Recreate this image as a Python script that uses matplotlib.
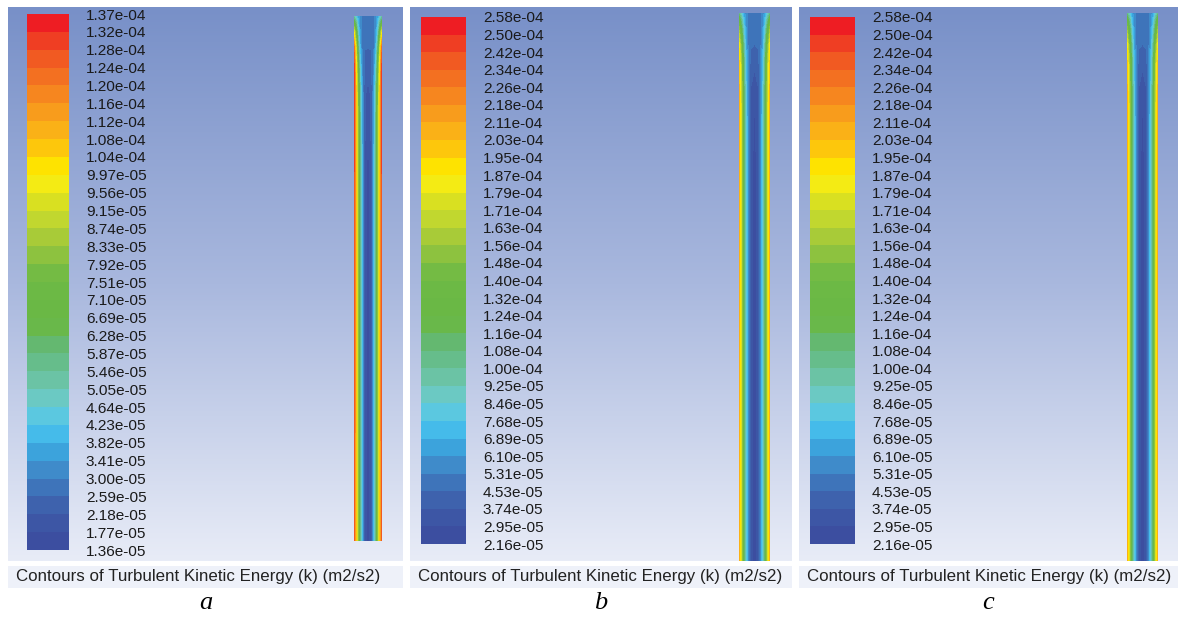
"""Contours of turbulent kinetic energy, three cases (a, b, c)."""

import matplotlib
matplotlib.use("Agg")
import matplotlib.pyplot as plt
import numpy as np
from matplotlib.colors import ListedColormap, BoundaryNorm, LinearSegmentedColormap

# colour-bar labels, top to bottom
labels_a = ["1.37e-04", "1.32e-04", "1.28e-04", "1.24e-04", "1.20e-04", "1.16e-04",
            "1.12e-04", "1.08e-04", "1.04e-04", "9.97e-05", "9.56e-05", "9.15e-05",
            "8.74e-05", "8.33e-05", "7.92e-05", "7.51e-05", "7.10e-05", "6.69e-05",
            "6.28e-05", "5.87e-05", "5.46e-05", "5.05e-05", "4.64e-05", "4.23e-05",
            "3.82e-05", "3.41e-05", "3.00e-05", "2.59e-05", "2.18e-05", "1.77e-05",
            "1.36e-05"]
labels_b = ["2.58e-04", "2.50e-04", "2.42e-04", "2.34e-04", "2.26e-04", "2.18e-04",
            "2.11e-04", "2.03e-04", "1.95e-04", "1.87e-04", "1.79e-04", "1.71e-04",
            "1.63e-04", "1.56e-04", "1.48e-04", "1.40e-04", "1.32e-04", "1.24e-04",
            "1.16e-04", "1.08e-04", "1.00e-04", "9.25e-05", "8.46e-05", "7.68e-05",
            "6.89e-05", "6.10e-05", "5.31e-05", "4.53e-05", "3.74e-05", "2.95e-05",
            "2.16e-05"]
labels_c = list(labels_b)

# tube cross-section positions (wall to wall) and axial stations (0 = top)
tube_r = [-1.0, -0.85, -0.7, -0.55, -0.4, -0.25, 0.0, 0.25, 0.4, 0.55, 0.7, 0.85, 1.0]
tube_z = [0.0, 0.01, 0.03, 0.06, 0.1, 0.15, 0.3, 1.0]

# k across the half tube (centre -> wall) at each axial station
half_k_a = [
    [2.8e-5, 2.8e-5, 2.9e-5, 3.2e-5, 3.6e-5, 4.4e-5, 5.0e-5],
    [2.8e-5, 2.8e-5, 2.9e-5, 3.2e-5, 3.9e-5, 5.2e-5, 6.5e-5],
    [2.7e-5, 2.7e-5, 2.8e-5, 3.3e-5, 4.5e-5, 7.0e-5, 9.5e-5],
    [2.6e-5, 2.6e-5, 2.8e-5, 3.7e-5, 5.7e-5, 9.0e-5, 1.22e-4],
    [2.4e-5, 2.5e-5, 3.1e-5, 4.4e-5, 6.8e-5, 1.0e-4, 1.3e-4],
    [1.9e-5, 2.3e-5, 3.3e-5, 5.0e-5, 7.6e-5, 1.04e-4, 1.3e-4],
    [1.5e-5, 2.2e-5, 3.6e-5, 5.4e-5, 8.0e-5, 1.06e-4, 1.28e-4],
    [1.45e-5, 2.2e-5, 3.6e-5, 5.4e-5, 8.0e-5, 1.05e-4, 1.25e-4],
]
half_k_b = [
    [4.8e-5, 4.8e-5, 5.0e-5, 5.6e-5, 6.6e-5, 8.3e-5, 1.0e-4],
    [4.8e-5, 4.8e-5, 5.0e-5, 5.8e-5, 7.3e-5, 9.8e-5, 1.25e-4],
    [4.7e-5, 4.7e-5, 5.0e-5, 6.2e-5, 8.4e-5, 1.22e-4, 1.55e-4],
    [4.5e-5, 4.6e-5, 5.1e-5, 6.8e-5, 1.0e-4, 1.45e-4, 1.85e-4],
    [3.8e-5, 4.1e-5, 5.3e-5, 7.4e-5, 1.1e-4, 1.6e-4, 2.0e-4],
    [3.0e-5, 3.6e-5, 5.4e-5, 8.0e-5, 1.15e-4, 1.65e-4, 2.05e-4],
    [2.3e-5, 3.4e-5, 5.5e-5, 8.2e-5, 1.2e-4, 1.7e-4, 2.05e-4],
    [2.2e-5, 3.4e-5, 5.5e-5, 8.2e-5, 1.2e-4, 1.7e-4, 2.05e-4],
]
half_k_c = [list(row) for row in half_k_b]

caption = "Contours of Turbulent Kinetic Energy (k) (m2/s2)"
panel_letters = ["a", "b", "c"]

# Fluent-like banded rainbow, bottom (low) to top (high)
band_colors = ["#3c4ea0", "#3d56a5", "#3e62ad", "#3e74ba", "#3f8bca", "#3ca3dc",
               "#45bbea", "#5bc8e0", "#6bc9c3", "#6bc3a5", "#66bd8b", "#64b870",
               "#69b84a", "#6ab845", "#6cb945", "#74bb44", "#8dc23f", "#a8cb38",
               "#c1d72f", "#d9e021", "#f4eb14", "#fee300", "#fdc70c", "#fab117",
               "#f89c1c", "#f6861f", "#f37021", "#f15a22", "#ef3e23", "#ee1d23"]
cmap = ListedColormap(band_colors)
bg_cmap = LinearSegmentedColormap.from_list("bg", ["#7890c8", "#a9b8de", "#e8ecf7"])

W, H = 1178, 617
fig = plt.figure(figsize=(W / 100, H / 100), dpi=100)
plt.rcParams["font.family"] = ["Liberation Sans", "DejaVu Sans"]


def px_axes(x0, y0, x1, y1, z=0):
    ax = fig.add_axes([x0 / W, 1 - y1 / H, (x1 - x0) / W, (y1 - y0) / H], zorder=z)
    return ax


# pixel layout of each panel
panels = [
    dict(box=(8, 7, 403, 561), cbar=(27, 14, 69, 550), tube=(354, 16, 382, 541),
         labels=labels_a, half=half_k_a),
    dict(box=(410, 7, 792, 561), cbar=(421, 17, 466, 544), tube=(739, 13, 770, 561),
         labels=labels_b, half=half_k_b),
    dict(box=(799, 7, 1178, 561), cbar=(810, 17, 855, 544), tube=(1127, 13, 1158, 561),
         labels=labels_c, half=half_k_c),
]

for p, letter in zip(panels, panel_letters):
    x0, y0, x1, y1 = p["box"]

    # background gradient
    bg = px_axes(x0, y0, x1, y1)
    bg.imshow(np.linspace(0, 1, 256).reshape(-1, 1), aspect="auto", cmap=bg_cmap,
              extent=[0, 1, 0, 1], origin="upper")
    bg.set_axis_off()

    levels = [float(s) for s in p["labels"]][::-1]
    norm = BoundaryNorm(levels, cmap.N)
    n_bands = len(levels) - 1

    # colour bar: equal-height bands, labels at the band edges
    cax = px_axes(*p["cbar"], z=2)
    mids = np.array([(levels[i] + levels[i + 1]) / 2 for i in range(n_bands)])
    cax.pcolormesh([0, 1], np.arange(n_bands + 1), mids.reshape(-1, 1),
                   cmap=cmap, norm=norm)
    cax.set_xlim(0, 1)
    cax.set_ylim(0, n_bands)
    cax.set_xticks([])
    cax.yaxis.tick_right()
    cax.set_yticks(np.arange(n_bands + 1), labels=p["labels"][::-1])
    cax.tick_params(axis="y", length=0, pad=12.2, labelsize=11.1, labelcolor="#1a1a1a")
    for s in cax.spines.values():
        s.set_visible(False)

    # tube contours
    tax = px_axes(*p["tube"], z=2)
    field = np.array([row[::-1] + row[1:] for row in p["half"]])
    tax.contourf(tube_r, tube_z, field, levels=levels, cmap=cmap, norm=norm)
    tax.set_xlim(-1, 1)
    tax.set_ylim(1, 0)
    tax.set_axis_off()

    # caption strip
    lab = px_axes(x0, 566, x1, 588, z=1)
    lab.set_facecolor("#eef1f9")
    lab.set_xticks([])
    lab.set_yticks([])
    for s in lab.spines.values():
        s.set_visible(False)
    lab.text(8 / (x1 - x0), 0.5, caption, transform=lab.transAxes, ha="left",
             va="center", fontsize=12.2, color="#222222")

    fig.text((x0 + x1) / 2 / W, 1 - 603 / H, letter, ha="center", va="center",
             fontsize=19, fontstyle="italic", family=["Liberation Serif", "DejaVu Serif"])

fig.savefig("out.png", dpi=100, facecolor="white")
